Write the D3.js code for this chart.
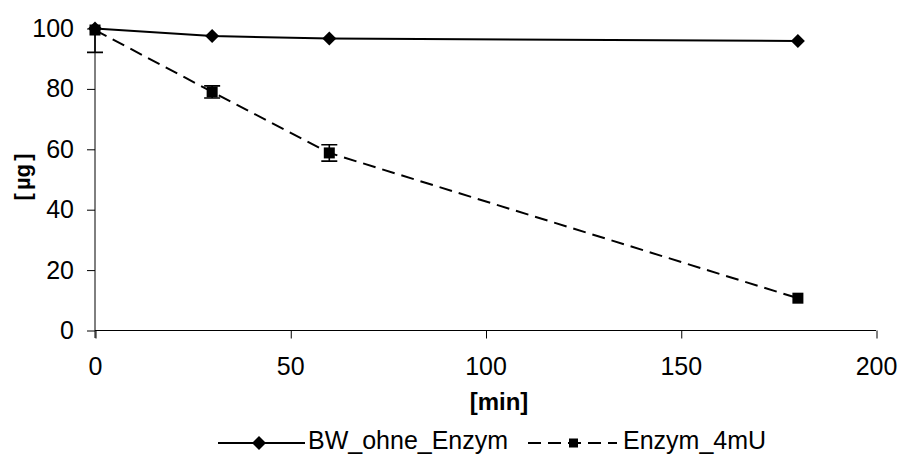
<!DOCTYPE html>
<html>
<head>
<meta charset="utf-8">
<script src="https://cdn.jsdelivr.net/npm/d3@7"></script>
<style>
  html, body { margin: 0; padding: 0; background: #fff; }
  svg { display: block; font-family: "Liberation Sans", Arial, sans-serif; }
</style>
</head>
<body>
<svg id="chart" width="900" height="454"></svg>
<script>
// Time points in minutes
const times = [0, 30, 60, 180];
// Remaining amount [µg] without enzyme
const bwOhneEnzym = [100, 97.5, 96.7, 95.9];
// Remaining amount [µg] with 4 mU enzyme, plus its error (± µg)
const enzym4mU = [99.5, 79, 58.8, 10.7];
const enzym4mUErr = [7.4, 2, 2.7, 0];
const xTicks = [0, 50, 100, 150, 200];
const yTicks = [0, 20, 40, 60, 80, 100];
const seriesNames = ["BW_ohne_Enzym", "Enzym_4mU"];

const FONT = "Liberation Sans, Arial, sans-serif";
const svg = d3.select("#chart");
const x = d3.scaleLinear().domain([0, 200]).range([95, 876]);
const y = d3.scaleLinear().domain([0, 100]).range([330.5, 28.5]);

// clip region for error bars (plot area)
svg.append("defs").append("clipPath").attr("id", "plotClip")
  .append("rect").attr("x", 80).attr("y", 28.5).attr("width", 820).attr("height", 310);

// Y axis
const yAxis = svg.append("g").attr("transform", "translate(95,0)")
  .call(d3.axisLeft(y).tickValues(yTicks).tickSize(8).tickPadding(13).tickFormat(d3.format("d")));
yAxis.select(".domain").attr("d", `M0,${y(100)}V338`).attr("stroke", "#000");
yAxis.selectAll(".tick line").attr("stroke", "#000");
yAxis.selectAll(".tick text").attr("font-size", 25).attr("fill", "#000").attr("font-family", FONT);

// X axis
const xAxis = svg.append("g").attr("transform", `translate(0,${y(0)})`)
  .call(d3.axisBottom(x).tickValues(xTicks).tickSize(8).tickPadding(19).tickFormat(d3.format("d")));
xAxis.select(".domain").attr("d", `M${x(0)},0H${x(200)}`).attr("stroke", "#000");
xAxis.selectAll(".tick line").attr("stroke", "#000").attr("transform", "translate(0.5,0)");
xAxis.selectAll(".tick text").attr("font-size", 25).attr("fill", "#000").attr("font-family", FONT);

// Axis titles
svg.append("text").attr("x", 499).attr("y", 410).attr("text-anchor", "middle")
  .attr("font-size", 24).attr("font-weight", "bold").text("[min]");
svg.append("text").attr("transform", "translate(30,177) rotate(-90)")
  .attr("text-anchor", "middle").attr("font-size", 22).attr("font-weight", "bold")
  .attr("word-spacing", -3).text("[ µg ]");

const line = d3.line().curve(d3.curveLinear);
const ptsBW = times.map((t, i) => [x(t), y(bwOhneEnzym[i])]);
const ptsEn = times.map((t, i) => [x(t), y(enzym4mU[i])]);

// Error bars (Enzym_4mU)
const eb = svg.append("g").attr("clip-path", "url(#plotClip)").attr("stroke", "#000").attr("stroke-width", 1.6);
times.forEach((t, i) => {
  const e = enzym4mUErr[i];
  if (!e) return;
  const cx = x(t);
  eb.append("line").attr("x1", cx).attr("x2", cx).attr("y1", y(enzym4mU[i] - e)).attr("y2", y(enzym4mU[i] + e));
  [enzym4mU[i] - e, enzym4mU[i] + e].forEach(v => {
    eb.append("line").attr("x1", cx - 8).attr("x2", cx + 8).attr("y1", y(v)).attr("y2", y(v));
  });
});

// Lines
svg.append("path").attr("d", line(ptsEn)).attr("fill", "none").attr("stroke", "#000")
  .attr("stroke-width", 2).attr("stroke-dasharray", "13,7");
svg.append("path").attr("d", line(ptsBW)).attr("fill", "none").attr("stroke", "#000")
  .attr("stroke-width", 2);

// Markers
const diamond = (cx, cy, r) => `M${cx},${cy - r}L${cx + r},${cy}L${cx},${cy + r}L${cx - r},${cy}Z`;
ptsEn.forEach(p => svg.append("rect").attr("x", p[0] - 5.5).attr("y", p[1] - 5.5)
  .attr("width", 11).attr("height", 11).attr("fill", "#000"));
ptsBW.forEach(p => svg.append("path").attr("d", diamond(p[0], p[1], 7)).attr("fill", "#000"));

// Legend
const ly = 443;
const lg = svg.append("g");
lg.append("line").attr("x1", 218).attr("x2", 305).attr("y1", ly).attr("y2", ly)
  .attr("stroke", "#000").attr("stroke-width", 2);
lg.append("path").attr("d", diamond(259, ly, 7)).attr("fill", "#000");
lg.append("text").attr("x", 308).attr("y", 449).attr("font-size", 25).text(seriesNames[0]);

lg.append("line").attr("x1", 528).attr("x2", 617).attr("y1", ly).attr("y2", ly)
  .attr("stroke", "#000").attr("stroke-width", 2).attr("stroke-dasharray", "13,7");
lg.append("rect").attr("x", 569).attr("y", ly - 4.5).attr("width", 9).attr("height", 9).attr("fill", "#000");
lg.append("text").attr("x", 623).attr("y", 449).attr("font-size", 25).text(seriesNames[1]);
</script>
</body>
</html>
